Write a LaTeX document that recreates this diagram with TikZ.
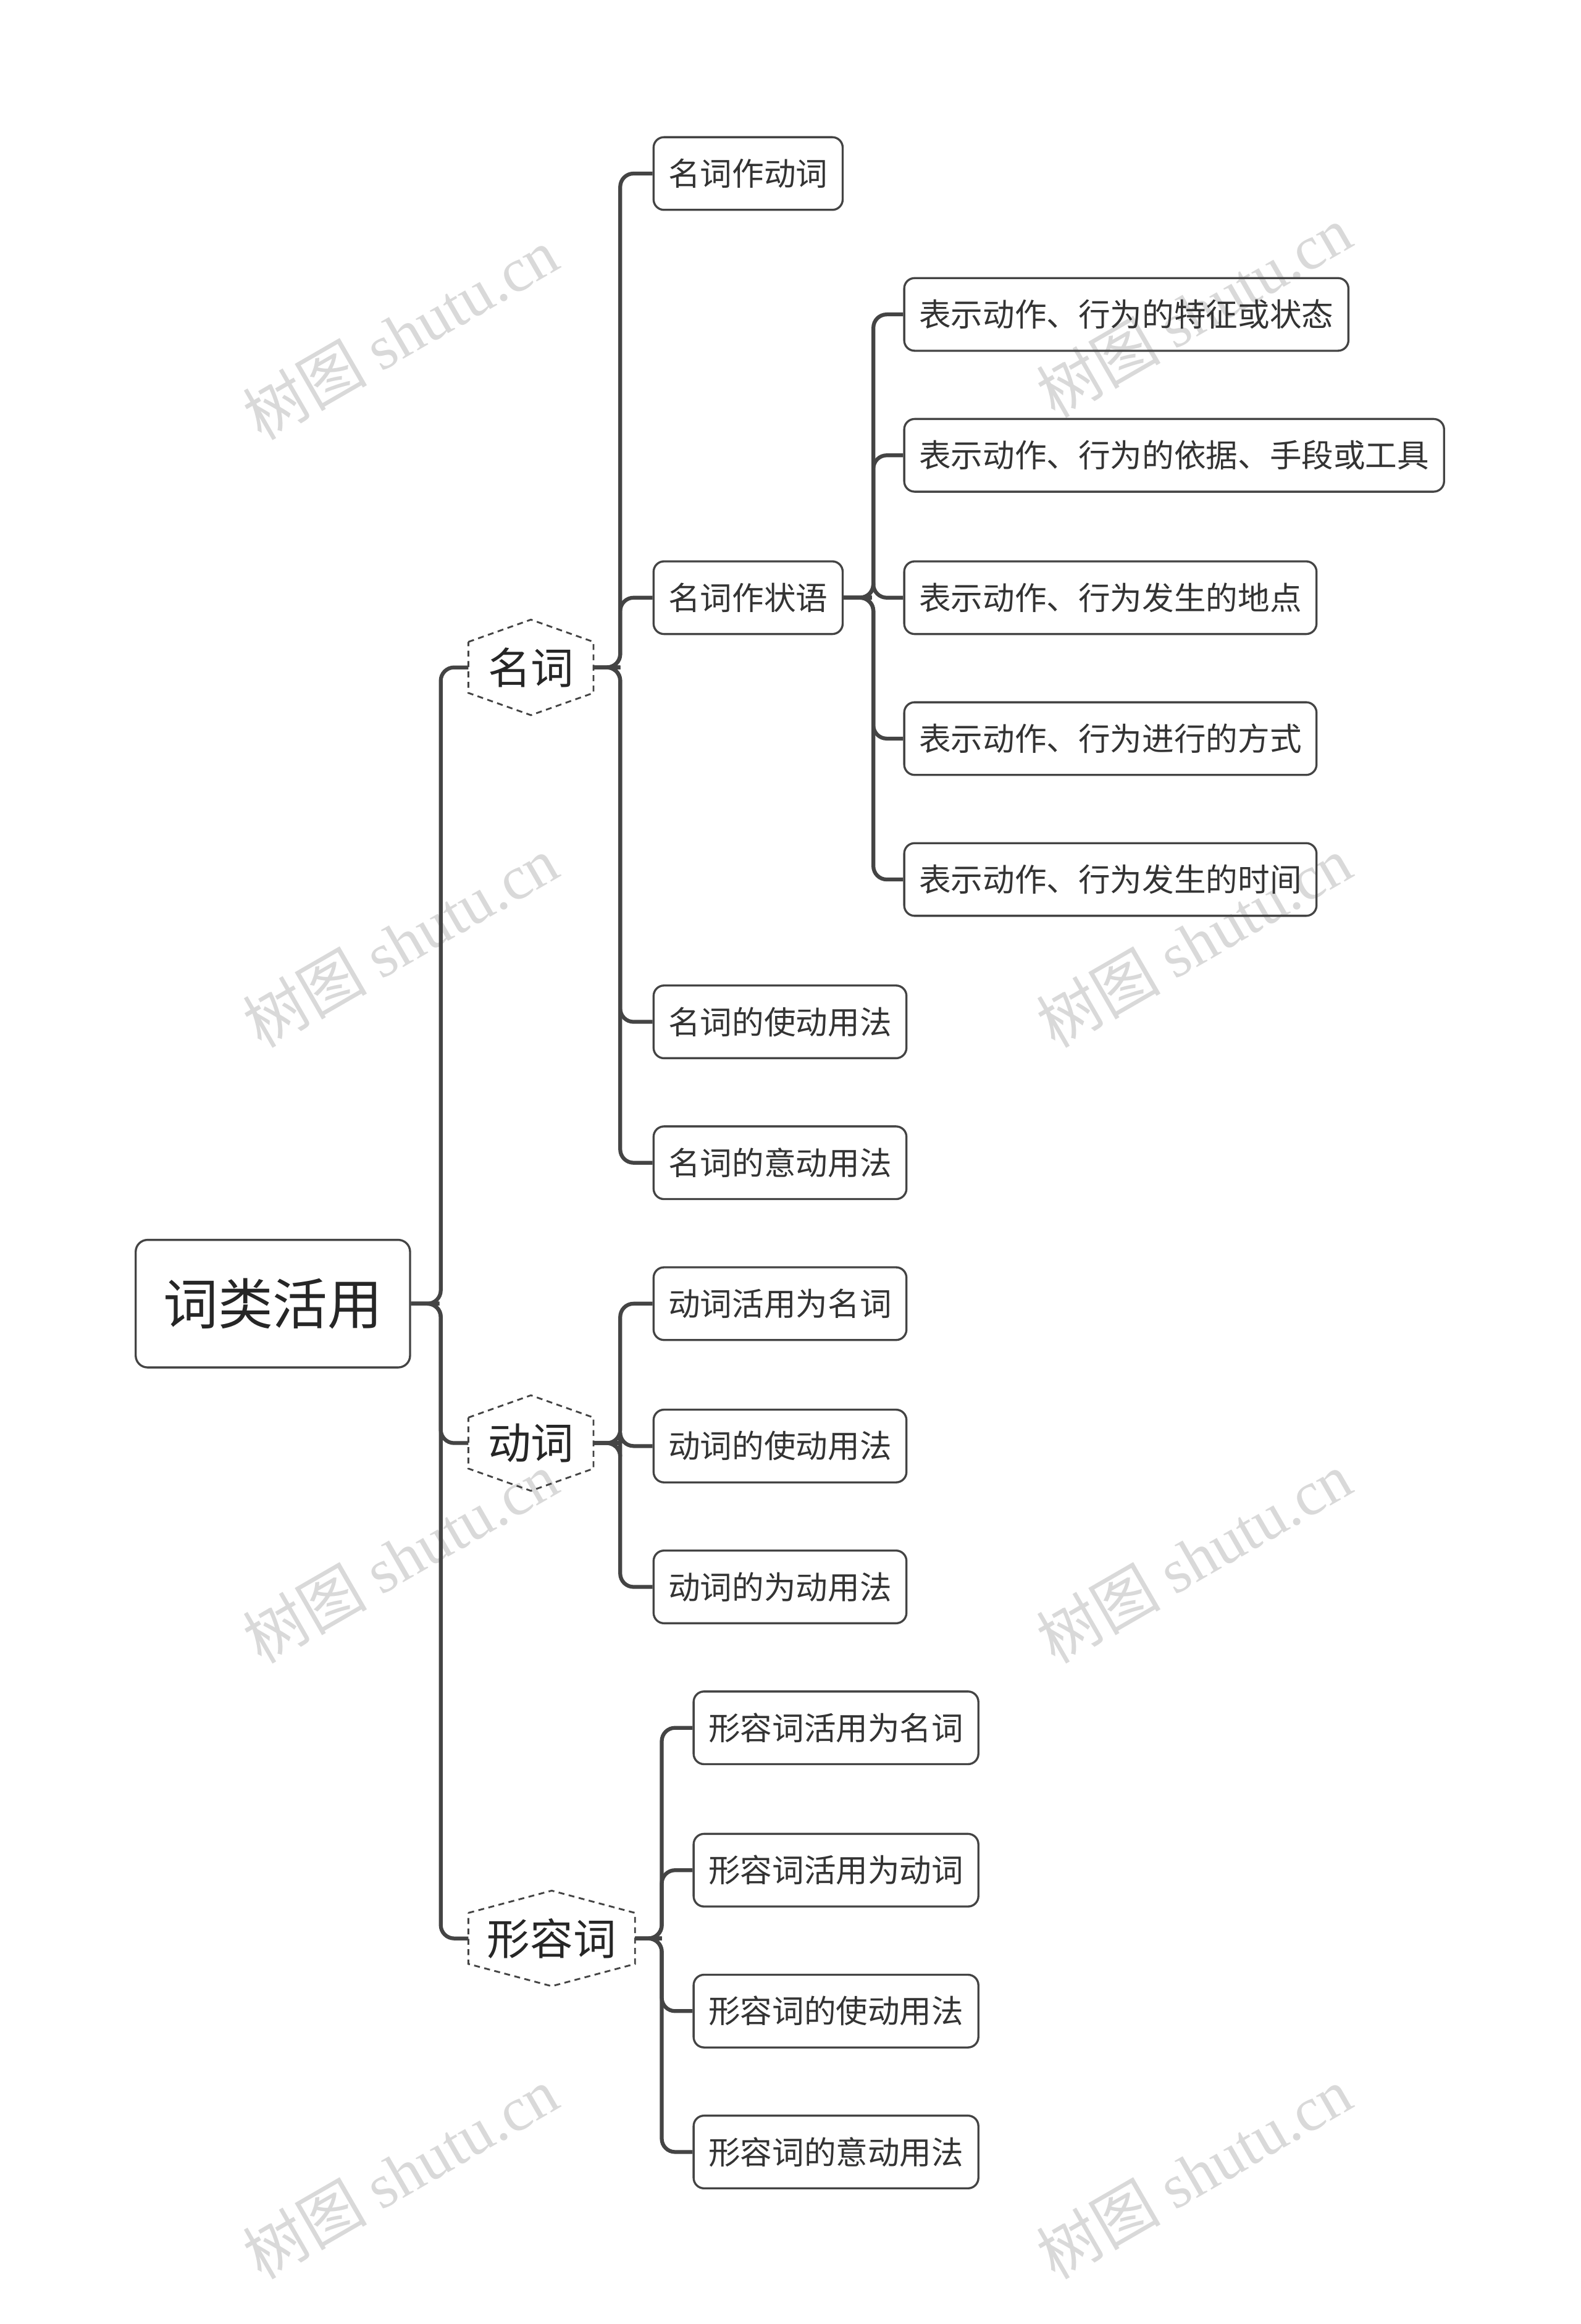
\documentclass[tikz,border=0pt]{standalone}
\usepackage{fontspec}
\setmainfont{Noto Sans CJK SC}
\newfontfamily\wmfont{Noto Serif CJK SC}
\usetikzlibrary{calc}
\definecolor{ln}{HTML}{444444}
\tikzset{
 box/.style={draw=ln,line width=1.4pt,rounded corners=7pt,inner xsep=10pt,minimum height=49pt,font=\fontsize{21.5}{21.5}\selectfont,text=black!80,anchor=west},
 rootbox/.style={draw=ln,line width=1.4pt,rounded corners=8pt,minimum width=185pt,minimum height=86pt,font=\fontsize{37}{37}\selectfont,text=black!85},
 hexn/.style={inner sep=0pt,minimum height=50pt,font=\fontsize{29}{29}\selectfont,text=black!85},
 hexs/.style={draw=ln,line width=1.2pt,dash pattern=on 4pt off 3pt},
 con/.style={draw=ln,line width=2.6pt,rounded corners=9pt},
 wm/.style={text=gray!30,font=\fontsize{42}{42}\selectfont,rotate=30}
}
\newcommand{\hexdraw}[1]{\draw[hexs] ($(#1.north west)+(0,8)$) -- ($(#1.north)+(0,-7)$) -- ($(#1.north east)+(0,8)$) -- ($(#1.south east)+(0,-8)$) -- ($(#1.south)+(0,7)$) -- ($(#1.south west)+(0,-8)$) -- cycle;}
\newcommand{\link}[3][18]{\draw[con] (#2.east) -- ++(#1/2,0) -- ++(#1/2,0) |- (#3.west);}
\begin{document}
\begin{tikzpicture}[x=1pt,y=-1pt]
\useasboundingbox (0,0) rectangle (1066,1567);
\foreach \x/\y in {270/225,805/210,270/635,805/635,270/1050,805/1050,270/1465,805/1465}
 \node[wm] at (\x,\y) {树图 {\fontspec{Liberation Serif}shutu.cn}};
\node[rootbox] (root) at (184,879) {词类活用};
\node[hexn,minimum width=84pt] (n) at (358,450) {名词};
\node[hexn,minimum width=84pt] (v) at (358,973) {动词};
\node[hexn,minimum width=112pt] (a) at (372,1307) {形容词};
\hexdraw{n}\hexdraw{v}\hexdraw{a}
\node[box] (n1) at (440,117) {名词作动词};
\node[box] (n2) at (440,403) {名词作状语};
\node[box] (n3) at (440,689) {名词的使动用法};
\node[box] (n4) at (440,784) {名词的意动用法};
\node[box] (v1) at (440,879) {动词活用为名词};
\node[box] (v2) at (440,975) {动词的使动用法};
\node[box] (v3) at (440,1070) {动词的为动用法};
\node[box] (a1) at (467,1165) {形容词活用为名词};
\node[box] (a2) at (467,1261) {形容词活用为动词};
\node[box] (a3) at (467,1356) {形容词的使动用法};
\node[box] (a4) at (467,1451) {形容词的意动用法};
\node[box] (s1) at (609,212) {表示动作、行为的特征或状态};
\node[box] (s2) at (609,307) {表示动作、行为的依据、手段或工具};
\node[box] (s3) at (609,403) {表示动作、行为发生的地点};
\node[box] (s4) at (609,498) {表示动作、行为进行的方式};
\node[box] (s5) at (609,593) {表示动作、行为发生的时间};
\foreach \c in {n,v,a} {\link[20]{root}{\c}}
\foreach \c in {n1,n2,n3,n4} {\link{n}{\c}}
\foreach \c in {v1,v2,v3} {\link{v}{\c}}
\foreach \c in {a1,a2,a3,a4} {\link[18]{a}{\c}}
\foreach \c in {s1,s2,s3,s4,s5} {\link[20]{n2}{\c}}
\end{tikzpicture}
\end{document}
